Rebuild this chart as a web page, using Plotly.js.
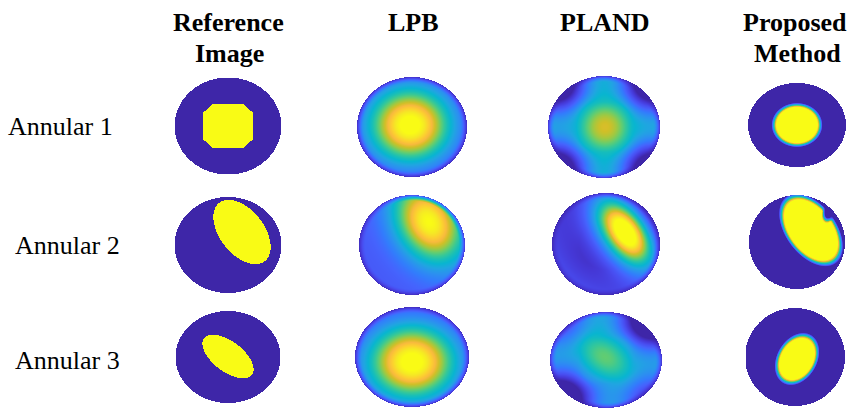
<!DOCTYPE html>
<html><head><meta charset="utf-8">
<script src="https://cdn.plot.ly/plotly-3.0.1.min.js"></script>
<style>html,body{margin:0;padding:0;background:#fff;} #chart{width:848px;height:410px;}</style>
</head><body><div id="chart"></div>
<script>
// ---- text ----
const rowLabels = ['Annular 1', 'Annular 2', 'Annular 3'];
const colLabelsLine1 = ['Reference', 'LPB', 'PLAND', 'Proposed'];
const colLabelsLine2 = ['Image', '', '', 'Method'];

// ---- image content (image pixels relative to each image centre, y downwards) ----
// disk: [centre x, centre y, semi-axis x, semi-axis y]
const refDisk = [[0, 0, 53.5, 48.5], [0, 1, 53.5, 48], [0, -1, 52.5, 46]];
// inclusion: [centre x, centre y, semi-axis a, semi-axis b, angle deg]
const refInclusion = [[0, 0, 25, 22, 0], [14, -12, 37, 22, 52], [0, -1.5, 30, 15, 37]];
const refCornerCut = [1.6, 0, 0];           // octagon corner factor (0 = ellipse)

const lpbDisk = [[0, 1, 55, 50], [0, 1, 53, 50], [0, -1, 57, 50]];
const lpbBase = [0.08, 0.16, 0.08];
// blob: [centre x, centre y, sigma a, sigma b, angle deg, amplitude]
const lpbBlob = [[-2, -1, 29, 26, 0, 0.97], [17, -22, 30, 22, 60, 0.84], [0, 4, 31, 26, 0, 0.97]];

const plandDisk = [[-1, 1, 56, 51], [1, 0, 54, 51], [1, 2, 56, 48]];
const plandBase = [0.08, 0.03, 0.1];
const plandBlobs = [
  [[0, 1, 25, 25, 0, 0.68]],
  [[21, -12, 24, 13, 55, 0.82], [16, -11, 38, 19, 55, 0.32]],
  [[0, -1, 30, 20, 35, 0.52]]
];
// rim modulation: [amplitude, fold, phase deg]
const plandRim = [[[0.25, 4, 0]], [[0.1, 1, 135]], [[0.2, 4, 0], [0.1, 2, 45]]];

const propDisk = [[0, -1, 49, 42], [0, -2, 48, 47], [-2, -1, 50, 49]];
const propInclusion = [[0, -1, 23, 20, 0], [14, -14, 38, 23, 53], [0, 1, 25, 18, -60]];
const propNotch = [null, [33, -34, 6, 11, 20], null];
const propSoftness = [2.2, 2.2, 2.2];

// ---- parula colour scale ----
const parula = [
  [0.00, '#3e26a8'], [0.0625, '#4537d5'], [0.125, '#484df0'], [0.1875, '#4563fd'],
  [0.25, '#327cfc'], [0.3125, '#2b91ef'], [0.375, '#20a5e1'], [0.4375, '#08b5d0'],
  [0.50, '#19bfb6'], [0.5625, '#37c897'], [0.625, '#64cd6f'], [0.6875, '#9dc943'],
  [0.75, '#d1bf27'], [0.8125, '#f8ba3d'], [0.875, '#fccf30'], [0.9375, '#f5e924'],
  [1.00, '#f9fb15']
];

// ---- layout geometry (pixels) ----
const W = 848, Hpx = 410;
const colCenter = [228, 412, 605, 797];
const rowCenter = [126, 244, 358];
const halfW = [58, 59, 58, 51];
const halfH = 52;

function clamp(v) { return v < 0 ? 0 : (v > 1 ? 1 : v); }
function rot(dx, dy, ang) {
  const t = ang * Math.PI / 180, c = Math.cos(t), s = Math.sin(t);
  return [dx * c + dy * s, -dx * s + dy * c];
}
function gauss(x, y, b) {
  const uv = rot(x - b[0], y - b[1], b[4]);
  return b[5] * Math.exp(-0.5 * ((uv[0] / b[2]) ** 2 + (uv[1] / b[3]) ** 2));
}
function insideShape(x, y, e, k) {
  const uv = rot(x - e[0], y - e[1], e[4]);
  const p = Math.abs(uv[0]) / e[2], q = Math.abs(uv[1]) / e[3];
  if (k > 0) return p <= 1 && q <= 1 && p + q <= k;
  return p * p + q * q <= 1;
}
function softInside(x, y, e, soft) {
  const uv = rot(x - e[0], y - e[1], e[4]);
  const d = Math.sqrt((uv[0] / e[2]) ** 2 + (uv[1] / e[3]) ** 2);
  const px = (d - 1) * Math.min(e[2], e[3]);
  return clamp(0.5 - px / (2 * soft));
}
function diskRho(x, y, d) {
  return Math.sqrt(((x - d[0]) / d[2]) ** 2 + ((y - d[1]) / d[3]) ** 2);
}
function rimDark(v, rho) {
  if (rho > 0.88) v *= 1 - 0.85 * ((rho - 0.88) / 0.12) ** 1.5;
  return v;
}

function pixelValue(c, r, x, y) {
  let d, rho, v;
  if (c === 0) {
    d = refDisk[r]; rho = diskRho(x, y, d); if (rho > 1) return null;
    return insideShape(x, y, refInclusion[r], refCornerCut[r]) ? 1 : 0;
  }
  if (c === 1) {
    d = lpbDisk[r]; rho = diskRho(x, y, d); if (rho > 1) return null;
    v = lpbBase[r] + gauss(x, y, lpbBlob[r]);
    return clamp(rimDark(v, rho));
  }
  if (c === 2) {
    d = plandDisk[r]; rho = diskRho(x, y, d); if (rho > 1) return null;
    v = plandBase[r];
    plandBlobs[r].forEach(b => { v += gauss(x, y, b); });
    const th = Math.atan2((y - d[1]) / d[3], (x - d[0]) / d[2]);
    const w = clamp((rho - 0.5) / 0.5);
    plandRim[r].forEach(m => { v += m[0] * Math.cos(m[1] * (th - m[2] * Math.PI / 180)) * w; });
    return clamp(rimDark(v, rho));
  }
  d = propDisk[r]; rho = diskRho(x, y, d); if (rho > 1) return null;
  v = softInside(x, y, propInclusion[r], propSoftness[r]);
  if (propNotch[r]) v *= 1 - softInside(x, y, propNotch[r], 1.5);
  return clamp(v);
}

const data = [];
const layout = {
  width: W, height: Hpx, margin: {l: 0, r: 0, t: 0, b: 0},
  paper_bgcolor: '#ffffff', plot_bgcolor: 'rgba(0,0,0,0)', showlegend: false,
  annotations: []
};

for (let r = 0; r < 3; r++) {
  for (let c = 0; c < 4; c++) {
    const idx = r * 4 + c + 1;
    const hw = halfW[c];
    const xs = [], ys = [], z = [];
    for (let i = 0; i < 2 * hw; i++) xs.push(-hw + 0.5 + i);
    for (let j = 0; j < 2 * halfH; j++) ys.push(-halfH + 0.5 + j);
    for (let j = 0; j < ys.length; j++) {
      const row = [];
      for (let i = 0; i < xs.length; i++) row.push(pixelValue(c, r, xs[i], ys[j]));
      z.push(row);
    }
    const xa = 'x' + (idx === 1 ? '' : idx), ya = 'y' + (idx === 1 ? '' : idx);
    data.push({
      type: 'heatmap', x: xs, y: ys, z: z, xaxis: xa, yaxis: ya,
      colorscale: parula, zmin: 0, zmax: 1, showscale: false, hoverinfo: 'skip', zsmooth: false
    });
    const xk = 'xaxis' + (idx === 1 ? '' : idx), yk = 'yaxis' + (idx === 1 ? '' : idx);
    layout[xk] = {domain: [(colCenter[c] - hw) / W, (colCenter[c] + hw) / W], range: [-hw, hw],
      visible: false, fixedrange: true, anchor: ya};
    layout[yk] = {domain: [1 - (rowCenter[r] + halfH) / Hpx, 1 - (rowCenter[r] - halfH) / Hpx],
      range: [halfH, -halfH], visible: false, fixedrange: true, anchor: xa};
  }
}

// column headers
const headX1 = [228, 413, 605, 795], headX2 = [229, 413, 605, 797];
const headY1 = 22, headY2 = 53.5;
colLabelsLine1.forEach((t, c) => {
  layout.annotations.push({text: '<b>' + t + '</b>', xref: 'paper', yref: 'paper',
    x: headX1[c] / W, y: 1 - headY1 / Hpx, xanchor: 'center', yanchor: 'middle', showarrow: false,
    font: {family: 'Liberation Serif, Times New Roman, serif', size: 26, color: '#000'}});
  if (colLabelsLine2[c]) layout.annotations.push({text: '<b>' + colLabelsLine2[c] + '</b>', xref: 'paper', yref: 'paper',
    x: headX2[c] / W, y: 1 - headY2 / Hpx, xanchor: 'center', yanchor: 'middle', showarrow: false,
    font: {family: 'Liberation Serif, Times New Roman, serif', size: 26, color: '#000'}});
});
// row labels
const rowLabX = [60.5, 67, 67], rowLabY = [126.5, 245, 360.5];
rowLabels.forEach((t, r) => {
  layout.annotations.push({text: t, xref: 'paper', yref: 'paper',
    x: rowLabX[r] / W, y: 1 - rowLabY[r] / Hpx, xanchor: 'center', yanchor: 'middle', showarrow: false,
    font: {family: 'Liberation Serif, Times New Roman, serif', size: 26, color: '#000'}});
});

Plotly.newPlot('chart', data, layout, {staticPlot: true, displayModeBar: false});
</script></body></html>
